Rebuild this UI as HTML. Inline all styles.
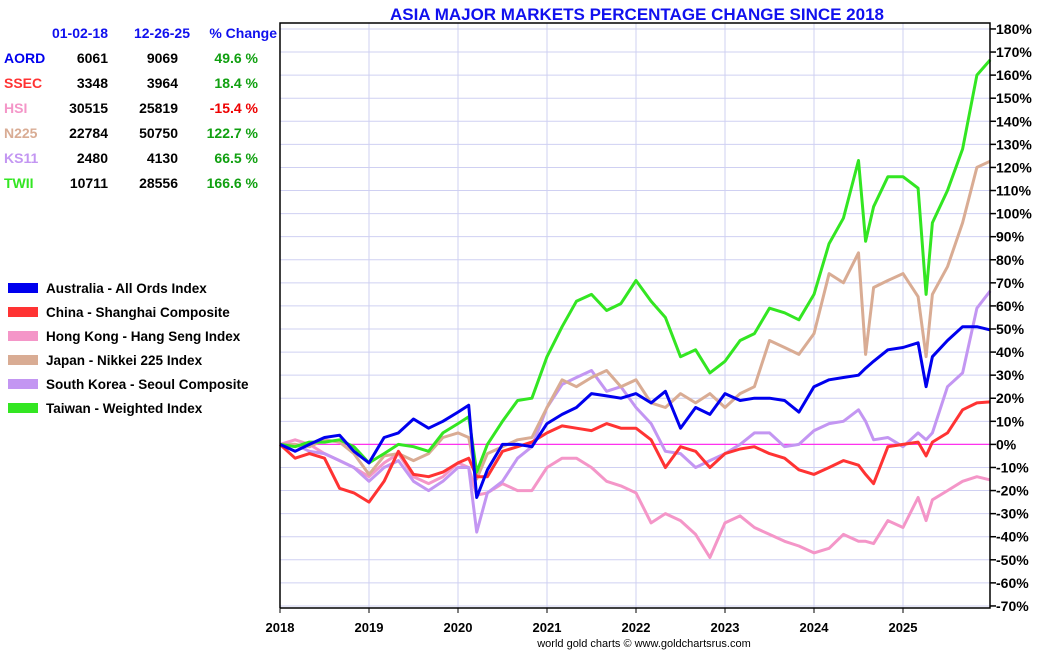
<!DOCTYPE html>
<html><head><meta charset="utf-8">
<style>
body{margin:0;background:#fff;width:1050px;height:650px;overflow:hidden;font-family:"Liberation Sans",Arial,sans-serif;}
svg{display:block}
</style></head>
<body>
<svg id="chart" width="1050" height="650" xmlns="http://www.w3.org/2000/svg" font-family="Liberation Sans, Arial, sans-serif">
<text x="637" y="20" text-anchor="middle" font-size="17" font-weight="bold" fill="#1010ee">ASIA MAJOR MARKETS PERCENTAGE CHANGE SINCE 2018</text>
<g id="grid"></g>
<g id="table"></g>
<g id="legend"></g>
<g id="series"></g>
<g id="axes"></g>
<text x="644" y="647" text-anchor="middle" font-size="11" fill="#000">world gold charts © www.goldchartsrus.com</text>
</svg>
<script>
const dates=[2018.0,2018.17,2018.33,2018.5,2018.67,2018.83,2019.0,2019.17,2019.33,2019.5,2019.67,2019.83,2020.0,2020.12,2020.21,2020.33,2020.5,2020.67,2020.83,2021.0,2021.17,2021.33,2021.5,2021.67,2021.83,2022.0,2022.17,2022.33,2022.5,2022.67,2022.83,2023.0,2023.17,2023.33,2023.5,2023.67,2023.83,2024.0,2024.17,2024.33,2024.5,2024.58,2024.67,2024.83,2025.0,2025.17,2025.26,2025.33,2025.5,2025.67,2025.83,2025.98];
const aord=[0,-3,0,3,4,-3,-8,3,5,11,7,10,14,17,-23,-11,0,0,-1,9,13,16,22,21,20,22,18,23,7,16,13,22,19,20,20,19,14,25,28,29,30,33,36,41,42,44,25,38,45,51,51,49.6];
const ssec=[0,-6,-4,-6,-19,-21,-25,-16,-3,-13,-14,-12,-8,-6,-14,-14,-3,-1,1,5,8,7,6,9,7,7,2,-10,-1,-3,-10,-4,-2,-1,-4,-6,-11,-13,-10,-7,-9,-13,-17,-1,0,1,-5,1,5,15,18,18.4];
const hsi=[0,2,0,-4,-7,-10,-14,-8,-4,-14,-17,-14,-8,-10,-22,-21,-17,-20,-20,-10,-6,-6,-10,-16,-18,-21,-34,-30,-33,-39,-49,-34,-31,-36,-39,-42,-44,-47,-45,-39,-42,-42,-43,-33,-36,-23,-33,-24,-20,-16,-14,-15.4];
const n225=[0,0,-1,2,1,-4,-13,-5,-4,-7,-4,3,5,3,-15,-4,-1,2,3,16,28,25,29,32,25,28,18,16,22,18,22,16,22,25,45,42,39,48,74,70,83,39,68,71,74,64,38,65,77,96,120,122.7];
const ks11=[0,0,-3,-4,-7,-10,-16,-10,-7,-16,-20,-16,-10,-10,-38,-21,-16,-6,-1,16,26,29,32,23,25,16,9,-3,-4,-10,-7,-4,0,5,5,-1,0,6,9,10,15,10,2,3,-1,5,2,5,25,31,59,66.5];
const twii=[0,-1,1,1,2,-1,-8,-4,0,-1,-3,5,9,12,-12,0,10,19,20,38,51,62,65,58,61,71,62,55,38,41,31,36,45,48,59,57,54,65,87,98,123,88,103,116,116,111,65,96,110,128,160,166.6];
const yTicks=[180,170,160,150,140,130,120,110,100,90,80,70,60,50,40,30,20,10,0,-10,-20,-30,-40,-50,-60,-70];
const xYears=[2018,2019,2020,2021,2022,2023,2024,2025];
const tableCodes=["AORD","SSEC","HSI","N225","KS11","TWII"];
const tableStart=["6061","3348","30515","22784","2480","10711"];
const tableEnd=["9069","3964","25819","50750","4130","28556"];
const tableChg=["49.6 %","18.4 %","-15.4 %","122.7 %","66.5 %","166.6 %"];
const legendNames=["Australia - All Ords Index","China - Shanghai Composite","Hong Kong - Hang Seng Index","Japan - Nikkei 225 Index","South Korea - Seoul Composite","Taiwan - Weighted Index"];

const NS="http://www.w3.org/2000/svg";
const colors=["#0000ee","#ff3333","#f496c8","#d9ac94","#c396f2","#33e622"];
const L=280,R=990,T=23,B=608;
function X(t){return L+(t-2018)*89;}
function Y(v){return 444.4-v*2.308;}
function mk(tag,attrs,parent){const e=document.createElementNS(NS,tag);for(const k in attrs)e.setAttribute(k,attrs[k]);parent.appendChild(e);return e;}
const grid=document.getElementById('grid'),axes=document.getElementById('axes'),ser=document.getElementById('series'),tab=document.getElementById('table'),leg=document.getElementById('legend');

yTicks.forEach(v=>{
  const y=Y(v);
  const g=mk('line',{x1:L,x2:R,y1:y,y2:y,stroke:'#cfd0f2','stroke-width':1},grid);
  
  
  const tk=mk('line',{x1:R,x2:R+6,y1:y,y2:y,stroke:'#000','stroke-width':1.5},axes);
  
  
  const t=mk('text',{x:R+6,y:y+5,'font-size':14,'font-weight':'bold',fill:'#000'},axes);
  t.textContent=v+'%';
  
  
});
xYears.forEach(yr=>{
  const x=X(yr);
  if(yr>2018){
    const g=mk('line',{x1:x,x2:x,y1:T,y2:B,stroke:'#cfd0f2','stroke-width':1},grid);
    
    
  }
  const tk=mk('line',{x1:x,x2:x,y1:B,y2:B+5,stroke:'#000','stroke-width':1},axes);
  
  
  const t=mk('text',{x:x,y:632,'text-anchor':'middle','font-size':13,'font-weight':'bold',fill:'#000'},axes);
  t.textContent=yr;
  
  
});
const zl=mk('line',{x1:L,x2:R,y1:Y(0),y2:Y(0),stroke:'#ff33ee','stroke-width':1.2},grid);



const fr=mk('path',{d:`M${L} ${B} L${L} ${T} L${R} ${T} L${R} ${B} L${L} ${B}`,fill:'none',stroke:'#000','stroke-width':1.5},axes);



const seriesData=[aord,ssec,hsi,n225,ks11,twii];
const seriesNames=['aord-line','ssec-line','hsi-line','n225-line','ks11-line','twii-line'];
[2,4,3,1,5,0].forEach(i=>{
  const d=seriesData[i].map((v,j)=>(j?'L':'M')+X(dates[j]).toFixed(1)+' '+Y(v).toFixed(1)).join(' ');
  const p=mk('path',{d:d,fill:'none',stroke:colors[i],'stroke-width':3,'stroke-linejoin':'round'},ser);
  
  
});

[['01-02-18',108],['12-26-25',190],['% Change',277]].forEach(h=>{
  const t=mk('text',{x:h[1],y:38,'text-anchor':'end','font-size':14,'font-weight':'bold',fill:'#1010ee'},tab);
  t.textContent=h[0];
  
  
});
tableCodes.forEach((c,i)=>{
  const y=63+i*25;
  const a=mk('text',{x:4,y:y,'font-size':14,'font-weight':'bold',fill:colors[i]},tab);
  a.textContent=c;
  
  
  const b=mk('text',{x:108,y:y,'text-anchor':'end','font-size':14,'font-weight':'bold',fill:'#000'},tab);
  b.textContent=tableStart[i];
  
  
  const e=mk('text',{x:178,y:y,'text-anchor':'end','font-size':14,'font-weight':'bold',fill:'#000'},tab);
  e.textContent=tableEnd[i];
  
  
  const g=mk('text',{x:258,y:y,'text-anchor':'end','font-size':14,'font-weight':'bold',fill:tableChg[i][0]=='-'?'#ee0000':'#10a010'},tab);
  g.textContent=tableChg[i];
  
  
});
legendNames.forEach((n,i)=>{
  const y=288+i*24;
  const r=mk('rect',{x:8,y:y-5,width:30,height:10,fill:colors[i]},leg);
  
  
  const t=mk('text',{x:46,y:y+5,'font-size':13.5,'font-weight':'bold',fill:'#000'},leg);
  t.textContent=n;
  
  
});
</script>
</body></html>
